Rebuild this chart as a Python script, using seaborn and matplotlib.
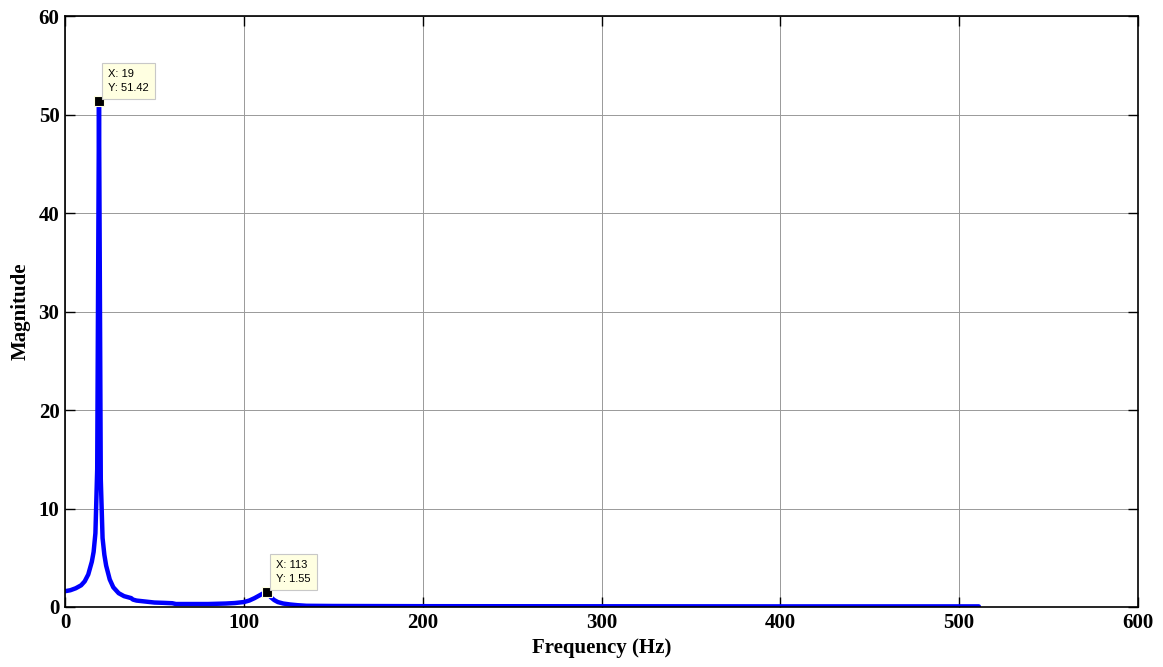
import numpy as np
import pandas as pd
import matplotlib
matplotlib.use("Agg")
import matplotlib.pyplot as plt
import seaborn as sns

# ---------- Data ---------- #

freq = [0, 3, 6, 9, 11, 13, 15, 16, 17, 18, 19, 20, 21, 22, 23, 25, 27, 30,
        33, 36, 37, 38, 40, 45, 50, 55, 60, 62, 70, 80, 90, 95, 100, 103, 106,
        109, 111, 113, 115, 117, 119, 122, 126, 130, 135, 150, 200, 300, 400, 511]
magnitude = [1.6, 1.7, 1.9, 2.2, 2.6, 3.3, 4.6, 5.6, 7.5, 14, 51.42, 13, 7, 5.3,
             4.2, 2.8, 2.0, 1.4, 1.1, 0.95, 0.9, 0.75, 0.65, 0.55, 0.45, 0.42,
             0.38, 0.3, 0.3, 0.3, 0.35, 0.4, 0.5, 0.65, 0.9, 1.2, 1.4, 1.55, 1.0,
             0.7, 0.5, 0.35, 0.25, 0.18, 0.12, 0.1, 0.08, 0.07, 0.06, 0.06]

tip_x = [19, 113]
tip_y = [51.42, 1.55]
tip_labels = ["X: 19\nY: 51.42", "X: 113\nY: 1.55"]

xticks = [0, 100, 200, 300, 400, 500, 600]
yticks = [0, 10, 20, 30, 40, 50, 60]

df = pd.DataFrame({"Frequency (Hz)": freq, "Magnitude": magnitude})

# ---------- Plot ---------- #

sns.set_theme(style="ticks")
plt.rcParams['font.family'] = ['Liberation Serif', 'DejaVu Serif']

fig = plt.figure(figsize=(11.63, 6.67), dpi=100)
ax = fig.add_axes([0.0559, 0.09, 0.9226, 0.8855])

sns.lineplot(data=df, x="Frequency (Hz)", y="Magnitude", ax=ax,
             color="#0000ff", linewidth=3.2)

ax.set_xlim(0, 600)
ax.set_ylim(0, 60)
ax.set_xticks(xticks)
ax.set_yticks(yticks)
ax.grid(True, color="#999999", linewidth=0.7)
ax.set_axisbelow(True)

for s in ax.spines.values():
    s.set_visible(True)
    s.set_color("black")
    s.set_linewidth(1.2)

ax.tick_params(direction="in", length=7, width=1, top=True, right=True,
               labelsize=15, pad=4, colors="black")
for lab in ax.get_xticklabels() + ax.get_yticklabels():
    lab.set_fontweight("bold")

ax.set_xlabel("Frequency (Hz)", fontsize=15, fontweight="bold", labelpad=4,
              color="black")
ax.set_ylabel("Magnitude", fontsize=15, fontweight="bold", labelpad=6,
              color="black")

# data tips
for x, y, txt in zip(tip_x, tip_y, tip_labels):
    ax.plot(x, y, marker="s", markersize=6.5, color="black",
            markeredgecolor="#ffffe1", markeredgewidth=0.8, zorder=5)
    ax.annotate(txt, xy=(x, y), xytext=(9, 8), textcoords="offset pixels",
                ha="left", va="bottom", fontsize=8, family="Liberation Sans",
                linespacing=1.45, color="black",
                bbox=dict(boxstyle="square,pad=0.55", fc="#ffffe1",
                          ec="#c8c8c8", lw=0.8), zorder=6)

fig.savefig("out.png", dpi=100)
plt.close()
